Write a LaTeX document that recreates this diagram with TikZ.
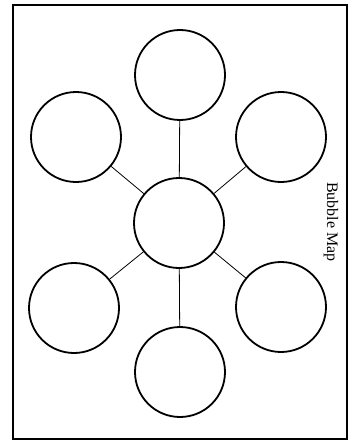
\documentclass[tikz,border=0pt]{standalone}
\usepackage{fontspec}
\setmainfont{Liberation Serif}
\begin{document}
\begin{tikzpicture}[x=1pt, y=-1pt,
    bubble/.style={draw, circle, line width=1.8pt, minimum size=90pt, inner sep=0pt},
    spoke/.style={line width=0.8pt}]
    \useasboundingbox (0,0) rectangle (353,441);
    \draw[line width=1.6pt] (13,5) rectangle (347,439);
    \node[bubble] (hub) at (179,223) {};
    \node[bubble] (top) at (180,75) {};
    \node[bubble] (upleft) at (76,137) {};
    \node[bubble] (upright) at (281,137) {};
    \node[bubble] (lowleft) at (74,308) {};
    \node[bubble] (lowright) at (281,307) {};
    \node[bubble] (bottom) at (180,372) {};
    \foreach \b in {top, upleft, upright, lowleft, lowright, bottom}
        \draw[spoke] (hub) -- (\b);
    \node[rotate=-90, font=\fontsize{16}{18}\selectfont] (title) at (331,222) {Bubble Map};
\end{tikzpicture}
\end{document}
